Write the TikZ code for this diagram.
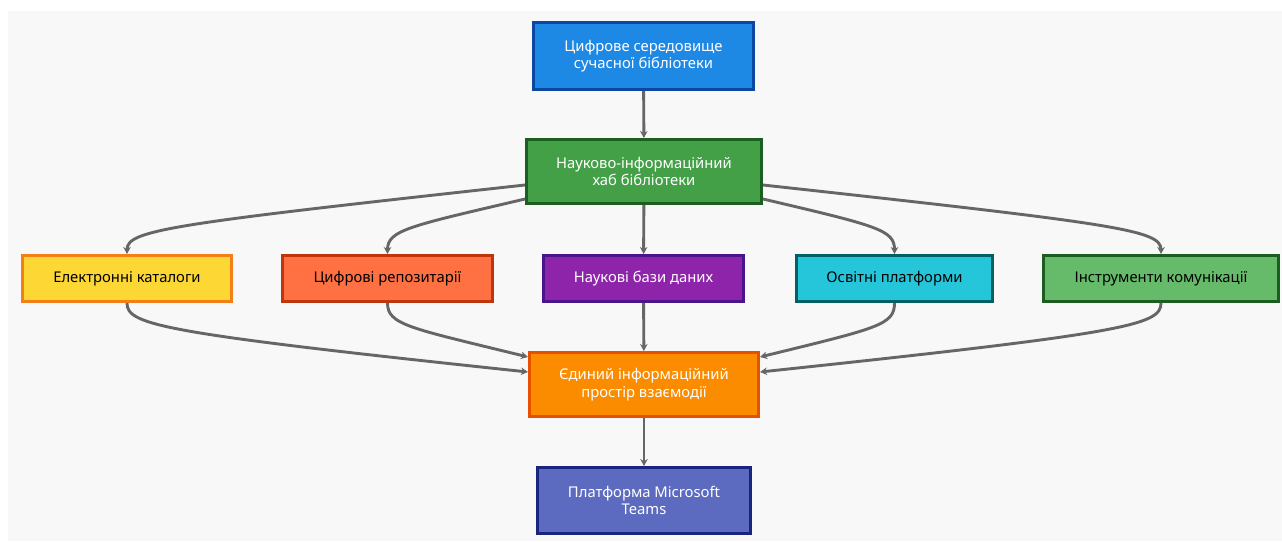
\documentclass[tikz,border=0pt]{standalone}
\usepackage{fontspec}
\setmainfont{Noto Sans}
\usetikzlibrary{arrows.meta}
\definecolor{bg}{HTML}{F8F8F8}
\definecolor{edgec}{HTML}{666666}
\begin{document}
\begin{tikzpicture}[x=1pt,y=-1pt,
  box/.style={draw,line width=3pt,inner sep=0pt,align=center,font=\fontsize{14.8}{17.5}\selectfont},
  link/.style={draw=edgec,line width=2.9pt,-{Stealth[length=7pt,width=7.5pt]}}]
\useasboundingbox (0,0) rectangle (1282,541);
\fill[bg] (8,11) rectangle (1282,541);
\definecolor{c1f}{HTML}{1E88E5}\definecolor{c1d}{HTML}{0D47A1}
\definecolor{c2f}{HTML}{43A047}\definecolor{c2d}{HTML}{1B5E20}
\definecolor{c3f}{HTML}{FDD835}\definecolor{c3d}{HTML}{F57F17}
\definecolor{c4f}{HTML}{FF7043}\definecolor{c4d}{HTML}{BF360C}
\definecolor{c5f}{HTML}{8E24AA}\definecolor{c5d}{HTML}{4A148C}
\definecolor{c6f}{HTML}{26C6DA}\definecolor{c6d}{HTML}{006064}
\definecolor{c7f}{HTML}{66BB6A}\definecolor{c7d}{HTML}{1B5E20}
\definecolor{c8f}{HTML}{FB8C00}\definecolor{c8d}{HTML}{E65100}
\definecolor{c9f}{HTML}{5C6BC0}\definecolor{c9d}{HTML}{1A237E}
\node[box,draw=c1d,fill=c1f,text=white,minimum width=220pt,minimum height=67pt] (top) at (643.5,56) {Цифрове середовище\\сучасної бібліотеки};
\node[box,draw=c2d,fill=c2f,text=white,minimum width=235pt,minimum height=64pt] (hub) at (644,171.5) {Науково-інформаційний\\хаб бібліотеки};
\node[box,draw=c3d,fill=c3f,text=black,minimum width=209pt,minimum height=46pt] (el) at (127,278.5) {Електронні каталоги};
\node[box,draw=c4d,fill=c4f,text=black,minimum width=210pt,minimum height=46pt] (rep) at (387.5,278.5) {Цифрові репозитарії};
\node[box,draw=c5d,fill=c5f,text=white,minimum width=200pt,minimum height=46pt] (db) at (643.5,278.5) {Наукові бази даних};
\node[box,draw=c6d,fill=c6f,text=black,minimum width=196pt,minimum height=46pt] (edu) at (894.5,278.5) {Освітні платформи};
\node[box,draw=c7d,fill=c7f,text=black,minimum width=235pt,minimum height=46pt] (com) at (1161,278.5) {Інструменти комунікації};
\node[box,draw=c8d,fill=c8f,text=white,minimum width=229pt,minimum height=64pt] (uni) at (644,384.5) {Єдиний інформаційний\\простір взаємодії};
\node[box,draw=c9d,fill=c9f,text=white,minimum width=213pt,minimum height=66pt] (ms) at (644,500.5) {Платформа Microsoft\\Teams};
\draw[link] (top) -- (hub);
\draw[link] (hub) -- (db);
\draw[link] (db) -- (uni);
\draw[link] (uni) -- (ms);
\draw[link] ([yshift=-13.5pt]hub.west) .. controls (170,224) and (127,230) .. (el.north);
\draw[link] ([yshift=-27.5pt]hub.west) .. controls (410,226) and (387.5,230) .. (rep.north);
\draw[link] ([yshift=-27.5pt]hub.east) .. controls (878,226) and (894.5,230) .. (edu.north);
\draw[link] ([yshift=-13.5pt]hub.east) .. controls (1118,224) and (1161,230) .. (com.north);
\draw[link] (el.south) .. controls (127,325) and (160,333) .. ([yshift=12.5pt]uni.west);
\draw[link] (rep.south) .. controls (387.5,325) and (410,328) .. ([yshift=27.5pt]uni.west);
\draw[link] (edu.south) .. controls (894.5,325) and (878,328) .. ([yshift=27.5pt]uni.east);
\draw[link] (com.south) .. controls (1161,325) and (1128,333) .. ([yshift=12.5pt]uni.east);
\end{tikzpicture}
\end{document}
